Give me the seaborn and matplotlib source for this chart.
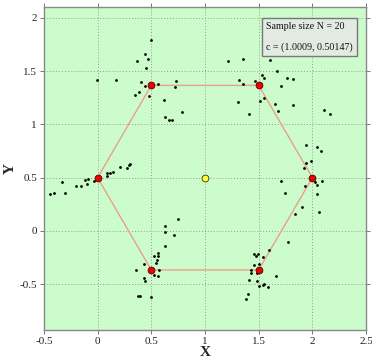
import numpy as np
import pandas as pd
import matplotlib
matplotlib.use("Agg")
import matplotlib.pyplot as plt
import seaborn as sns

# sample points (grouped roughly by nearest vertex)
sample_x = [
    0.499, 0.443, 0.474, 0.366, 0.450, -0.007, 0.173, 0.403, 0.446, 0.567,
    0.732, 0.723, 0.387, 0.353, 0.480, 0.620, 0.785, 0.632, 0.664, 0.695,
    1.219, 1.353, 1.610, 1.669, 1.530, 1.551, 1.321, 1.467, 1.768, 1.824,
    1.353, 1.709, 1.551, 1.514, 1.309, 1.656, 1.824, 1.679, 1.414, 2.113, 2.163,
    1.940, 2.042, 2.082, 1.986, 1.942, 1.924, 1.709, 2.026, 2.088, 2.047,
    1.936, 1.747, 2.042, 2.061, 1.899, 1.843, 1.775,
    1.598, 1.455, 1.495, 1.474, 1.542, 1.461, 1.507, 1.424, 1.433, 1.480,
    1.666, 1.412, 1.483, 1.551, 1.539, 1.505, 1.586, 1.402, 1.381,
    0.748, 0.629, 0.632, 0.716, 0.627, 0.558, 0.561, 0.524, 0.552, 0.548,
    0.434, 0.362, 0.571, 0.524, 0.558, 0.434, 0.443, 0.378, 0.397, 0.493,
    0.304, 0.291, 0.276, 0.210, 0.139, 0.115, 0.083, 0.083, -0.034, -0.090,
    -0.118, -0.100, -0.153, -0.199, -0.332, -0.302, -0.407, -0.439,
]
sample_y = [
    1.791, 1.660, 1.609, 1.594, 1.529, 1.412, 1.412, 1.397, 1.363, 1.381,
    1.407, 1.353, 1.306, 1.276, 1.266, 1.225, 1.116, 1.072, 1.041, 1.037,
    1.594, 1.609, 1.604, 1.497, 1.466, 1.438, 1.419, 1.410, 1.438, 1.428,
    1.375, 1.356, 1.247, 1.216, 1.213, 1.191, 1.182, 1.128, 1.094, 1.135, 1.100,
    0.807, 0.791, 0.747, 0.653, 0.634, 0.588, 0.466, 0.456, 0.470, 0.428,
    0.423, 0.357, 0.344, 0.175, 0.226, 0.160, -0.099,
    -0.177, -0.212, -0.212, -0.237, -0.246, -0.318, -0.312, -0.362, -0.396, -0.390,
    -0.427, -0.458, -0.465, -0.493, -0.505, -0.518, -0.528, -0.593, -0.640,
    0.116, 0.051, -0.006, -0.040, -0.143, -0.209, -0.233, -0.237, -0.275, -0.303,
    -0.308, -0.365, -0.368, -0.411, -0.421, -0.437, -0.471, -0.608, -0.608, -0.624,
    0.629, 0.616, 0.588, 0.597, 0.554, 0.541, 0.541, 0.519, 0.466, 0.485,
    0.482, 0.441, 0.423, 0.419, 0.456, 0.353, 0.353, 0.344,
]

# hexagon vertices (closed) and centre
hex_x = [0.0, 0.5, 1.5, 2.0, 1.5, 0.5, 0.0]
hex_y = [0.5, 1.366, 1.366, 0.5, -0.366, -0.366, 0.5]
center_x = [1.0]
center_y = [0.5]

x_ticks = [-0.5, 0, 0.5, 1, 1.5, 2, 2.5]
x_labels = ["-0.5", "0", "0.5", "1", "1.5", "2", "2.5"]
y_ticks = [-0.5, 0, 0.5, 1, 1.5, 2]
y_labels = ["-0.5", "0", "0.5", "1", "1.5", "2"]

info_text = "Sample size N = 20\n\nc = (1.0009, 0.50147)"

sns.set_theme(style="white")
plt.rcParams["font.family"] = ["Liberation Serif", "DejaVu Serif"]

samples = pd.DataFrame({"x": sample_x, "y": sample_y})
hexagon = pd.DataFrame({"x": hex_x, "y": hex_y, "order": range(len(hex_x))})
center = pd.DataFrame({"x": center_x, "y": center_y})

fig = plt.figure(figsize=(3.72, 3.58), dpi=100)
ax = fig.add_axes([0.118, 0.078, 0.866, 0.902])
ax.set_facecolor("#ccfccc")

sns.lineplot(data=hexagon, x="x", y="y", sort=False, estimator=None,
             color="#eba088", linewidth=1.0, ax=ax, zorder=2)
sns.scatterplot(data=samples, x="x", y="y", color="black", s=4,
                linewidth=0, ax=ax, zorder=3)
sns.scatterplot(data=hexagon.iloc[:-1], x="x", y="y", color="#ee0000", s=24,
                edgecolor="#550000", linewidth=0.6, ax=ax, zorder=4)
sns.scatterplot(data=center, x="x", y="y", color="#ffff33", s=24,
                edgecolor="#333300", linewidth=0.6, ax=ax, zorder=4)

ax.set_xlim(-0.5, 2.5)
ax.set_ylim(-0.93, 2.1)
ax.set_xticks(x_ticks)
ax.set_xticklabels(x_labels)
ax.set_yticks(y_ticks)
ax.set_yticklabels(y_labels)
ax.grid(True, linestyle=(0, (1, 2)), color="#999999", linewidth=0.7)
ax.set_axisbelow(True)

ax.tick_params(axis="both", which="both", direction="out", length=3, width=0.7,
               color="#777777", labelsize=8, labelcolor="#222222",
               top=True, right=True, bottom=True, left=True, pad=2)
for sp in ax.spines.values():
    sp.set_color("#888888")
    sp.set_linewidth(1.0)

ax.set_xlabel("X", fontsize=11, fontweight="bold", labelpad=0)
ax.set_ylabel("Y", fontsize=11, fontweight="bold", labelpad=2)

ax.text(0.69, 0.955, info_text, transform=ax.transAxes, fontsize=7.2,
        va="top", ha="left", color="#111111",
        bbox=dict(boxstyle="square,pad=0.4", facecolor="#e2eae2",
                  edgecolor="#777777", linewidth=1.0))

fig.savefig("out.png", dpi=100)
plt.close(fig)
